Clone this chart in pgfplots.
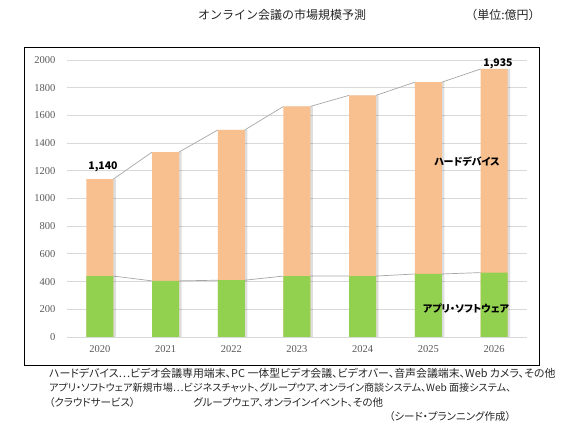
\documentclass[border=0pt]{standalone}
\usepackage{fontspec}
\setmainfont{Noto Sans CJK JP}
\newfontfamily\pfont[RawFeature=+palt]{Noto Sans CJK JP}
\newfontfamily\tickfont{Liberation Serif}
\usepackage{pgfplots}
\pgfplotsset{compat=1.18}
\definecolor{hard}{HTML}{F8BF8F}
\definecolor{soft}{HTML}{92D050}
\definecolor{gridc}{HTML}{D9D9D9}
\definecolor{serline}{HTML}{A6A6A6}
\definecolor{tickc}{HTML}{595959}
\begin{document}
\begin{tikzpicture}[x=1pt,y=1pt]
\useasboundingbox (0,0) rectangle (566,430);
\draw[black, line width=0.9pt] (24,65) rectangle (539,383);
\begin{axis}[
  at={(67pt,93pt)}, anchor=south west,
  scale only axis, width=460pt, height=277pt,
  xmin=-0.5, xmax=6.5, ymin=0, ymax=2000,
  ytick={0,200,...,2000},
  xtick={0,1,2,3,4,5,6},
  xticklabels={2020,2021,2022,2023,2024,2025,2026},
  axis line style={draw=none},
  tick style={draw=none},
  ymajorgrids, major grid style={gridc, line width=0.8pt},
  /pgf/number format/assume math mode=true,
  /pgf/number format/set thousands separator={},
  yticklabel style={font=\tickfont\fontsize{10.5}{12}\selectfont, text=tickc, xshift=-8pt},
  xticklabel style={font=\tickfont\fontsize{10.5}{12}\selectfont, text=tickc, yshift=-5pt},
  unbounded coords=jump,
  clip=false,
]
% series lines
\addplot[serline, line width=0.7pt, no markers] coordinates {
 (0.205,1140) (0.795,1335) (1,nan)
 (1.205,1335) (1.795,1495) (2,nan)
 (2.205,1495) (2.795,1665) (3,nan)
 (3.205,1665) (3.795,1745) (4,nan)
 (4.205,1745) (4.795,1840) (5,nan)
 (5.205,1840) (5.795,1935)
};
\addplot[serline, line width=0.7pt, no markers] coordinates {
 (0.205,440) (0.795,405) (1,nan)
 (1.205,405) (1.795,410) (2,nan)
 (2.205,410) (2.795,440) (3,nan)
 (3.205,440) (3.795,440) (4,nan)
 (4.205,440) (4.795,455) (5,nan)
 (5.205,455) (5.795,465)
};
% shadow
\addplot[ybar, bar width=27pt, bar shift=2.5pt, fill=black, fill opacity=0.13, draw=none] coordinates {
 (0,1140) (1,1335) (2,1495) (3,1665) (4,1745) (5,1840) (6,1935)};
% totals (hardware on top of software)
\addplot[ybar, bar width=27pt, bar shift=0pt, fill=hard, draw=none] coordinates {
 (0,1140) (1,1335) (2,1495) (3,1665) (4,1745) (5,1840) (6,1935)};
% software
\addplot[ybar, bar width=27pt, bar shift=0pt, fill=soft, draw=none] coordinates {
 (0,440) (1,405) (2,410) (3,440) (4,440) (5,455) (6,465)};
\end{axis}
% titles
\node[font=\fontsize{12}{14}\selectfont, text=black!85] at (282,415) {オンライン会議の市場規模予測};
\node[font=\fontsize{12}{14}\selectfont, text=black!85] at (503,415) {（単位:億円）};
% data labels
\node[font=\bfseries\fontsize{10.5}{12}\selectfont] at (103,263) {1,140};
\node[font=\bfseries\fontsize{10.5}{12}\selectfont] at (498,366) {1,935};
\node[font=\pfont\bfseries\fontsize{10}{11}\selectfont] at (467,268) {ハードデバイス};
\node[font=\pfont\bfseries\fontsize{10}{11}\selectfont] at (466,121) {アプリ・ソフトウェア};
% footnotes
\begin{scope}[every node/.style={font=\pfont\fontsize{10.5}{12}\selectfont, text=black!85, inner sep=0pt}]
\node[anchor=west, font=\pfont\fontsize{10.9}{12}\selectfont] at (49,57) {ハードデバイス⋯ビデオ会議専用端末、PC 一体型ビデオ会議、ビデオバー、音声会議端末、Web カメラ、その他};
\node[anchor=west, font=\pfont\fontsize{10.1}{12}\selectfont] at (49,42) {アプリ・ソフトウェア新規市場⋯ビジネスチャット、グループウア、オンライン商談システム、Web 面接システム、};
\node[anchor=west] at (49,27) {（クラウドサービス）};
\node[anchor=west] at (193,27) {グループウェア、オンラインイベント、その他};
\node[anchor=west] at (389,13) {（シード・プランニング作成）};
\end{scope}
\end{tikzpicture}
\end{document}
